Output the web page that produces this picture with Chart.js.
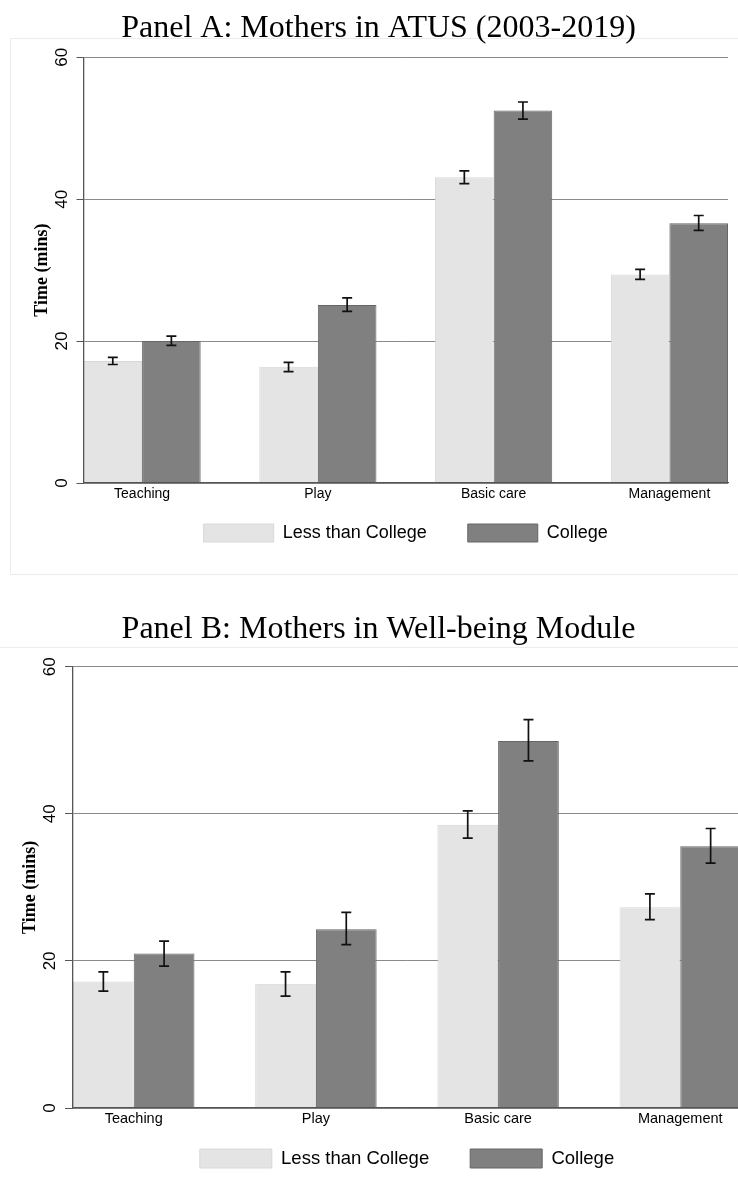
<!DOCTYPE html>
<html>
<head>
<meta charset="utf-8">
<script src="https://cdn.jsdelivr.net/npm/chart.js@4/dist/chart.umd.min.js"></script>
<style>
  body { margin: 0; background: #fff; }
  #page { position: relative; width: 738px; height: 1196px; overflow: hidden; background: #fff; }
  .frame { position: absolute; border: 1px solid #ececec; }
  canvas { position: absolute; }
</style>
</head>
<body>
<div id="page">
  <div class="frame" style="left:10px; top:38px; width:760px; height:535px;"></div>
  <div class="frame" style="left:-2px; top:647px; width:760px; height:600px;"></div>
  <canvas id="panelA" width="709" height="574" style="left:29px; top:0px;"></canvas>
  <canvas id="panelB" width="735" height="600" style="left:15.7px; top:600px;"></canvas>
</div>
<script>
// Categories and series names shared by both panels
const categories = ["Teaching", "Play", "Basic care", "Management"];
const seriesNames = ["Less than College", "College"];
const yTicks = [0, 20, 40, 60];

// Panel A: Mothers in ATUS (2003-2019)
const atusLess = [17.2, 16.4, 43.1, 29.4];
const atusLessLow = [16.7, 15.7, 42.2, 28.7];
const atusLessHigh = [17.7, 17.0, 44.0, 30.1];
const atusCollege = [20.0, 25.1, 52.5, 36.6];
const atusCollegeLow = [19.4, 24.2, 51.3, 35.6];
const atusCollegeHigh = [20.7, 26.1, 53.7, 37.7];

// Panel B: Mothers in Well-being Module
const wbLess = [17.2, 16.9, 38.5, 27.3];
const wbLessLow = [15.9, 15.2, 36.7, 25.6];
const wbLessHigh = [18.5, 18.5, 40.4, 29.1];
const wbCollege = [21.0, 24.3, 49.9, 35.6];
const wbCollegeLow = [19.3, 22.2, 47.2, 33.3];
const wbCollegeHigh = [22.7, 26.6, 52.8, 38.0];

const SANS = "'Liberation Sans', Arial, sans-serif";
const SERIF = "'Liberation Serif', 'Times New Roman', serif";

// Draws the confidence interval whiskers on top of each bar
const errorBars = {
  id: "errorBars",
  afterDatasetsDraw(chart) {
    const ctx = chart.ctx;
    const yScale = chart.scales.y;
    chart.data.datasets.forEach((ds, i) => {
      const meta = chart.getDatasetMeta(i);
      meta.data.forEach((bar, j) => {
        const top = yScale.getPixelForValue(ds.errHigh[j]);
        const bottom = yScale.getPixelForValue(ds.errLow[j]);
        const half = 5;
        ctx.save();
        ctx.strokeStyle = "#111";
        ctx.lineWidth = 1.7;
        ctx.beginPath();
        ctx.moveTo(bar.x, top);
        ctx.lineTo(bar.x, bottom);
        ctx.moveTo(bar.x - half, top);
        ctx.lineTo(bar.x + half, top);
        ctx.moveTo(bar.x - half, bottom);
        ctx.lineTo(bar.x + half, bottom);
        ctx.stroke();
        ctx.restore();
      });
    });
  },
};

// The legend sits right under the axis labels, so pull it up over the x axis box
const legendShift = {
  id: "legendShift",
  afterLayout(chart) {
    const shift = chart.scales.x.height;
    chart.legend.top -= shift;
    chart.legend.bottom -= shift;
  },
};

function toPoints(values) {
  return values.map((v, i) => ({ x: i, y: v }));
}

// Build one panel; p holds the layout numbers for that panel
function createPanel(canvasId, title, less, lessLow, lessHigh, college, collegeLow, collegeHigh, p) {
  const ctx = document.getElementById(canvasId).getContext("2d");
  return new Chart(ctx, {
    type: "bar",
    data: {
      datasets: [
        {
          label: seriesNames[0],
          data: toPoints(less),
          errLow: lessLow,
          errHigh: lessHigh,
          backgroundColor: "#e4e4e4",
          borderColor: "#d8d8d8",
          borderWidth: 1,
          categoryPercentage: 2 / 3,
          barPercentage: 1,
        },
        {
          label: seriesNames[1],
          data: toPoints(college),
          errLow: collegeLow,
          errHigh: collegeHigh,
          backgroundColor: "#808080",
          borderColor: "#666666",
          borderWidth: 1,
          categoryPercentage: 2 / 3,
          barPercentage: 1,
        },
      ],
    },
    options: {
      responsive: false,
      animation: false,
      layout: { padding: { left: 0, right: p.rightPad, top: 0, bottom: 0 } },
      plugins: {
        title: {
          display: true,
          text: title,
          color: "#000",
          font: { family: SERIF, size: 32, weight: "normal" },
          padding: { top: p.titleTop, bottom: p.titleBottom },
        },
        legend: {
          position: "bottom",
          fullSize: false,
          labels: {
            color: "#000",
            font: { family: SANS, size: p.legendFont },
            boxWidth: p.boxW,
            boxHeight: p.boxH,
            padding: 41,
          },
        },
        tooltip: { enabled: false },
      },
      scales: {
        x: {
          type: "linear",
          offset: false,
          min: -1 / 3,
          max: categories.length - 1 + 1 / 3,
          afterBuildTicks: (scale) => {
            scale.ticks = categories.map((c, i) => ({ value: i }));
          },
          afterFit: (scale) => {
            scale.height = 22;
          },
          grid: { display: false, drawTicks: false },
          border: { display: true, color: "#555", width: 1.3, z: 1 },
          ticks: {
            autoSkip: false,
            maxRotation: 0,
            padding: 2.5,
            color: "#000",
            font: { family: SANS, size: p.catFont },
            callback: (value) => categories[value],
          },
        },
        y: {
          min: 0,
          max: 60,
          afterBuildTicks: (scale) => {
            scale.ticks = yTicks.map((v) => ({ value: v }));
          },
          afterFit: (scale) => {
            scale.width = p.axisW;
          },
          grid: {
            color: "#8a8a8a",
            lineWidth: 1,
            drawTicks: true,
            tickLength: p.tickLen,
            tickColor: "#555",
          },
          border: { display: true, color: "#555", width: 1.3, z: 1 },
          ticks: {
            minRotation: 90,
            maxRotation: 90,
            crossAlign: "center",
            padding: p.tickPad,
            color: "#000",
            font: { family: SANS, size: 17 },
          },
          title: {
            display: true,
            text: "Time (mins)",
            color: "#000",
            font: { family: SERIF, size: 18, weight: "bold" },
            padding: { top: p.yTitlePad, bottom: 0 },
          },
        },
      },
    },
    plugins: [errorBars, legendShift],
  });
}

createPanel("panelA", "Panel A: Mothers in ATUS (2003-2019)",
  atusLess, atusLessLow, atusLessHigh, atusCollege, atusCollegeLow, atusCollegeHigh,
  { rightPad: 10, titleTop: 9, titleBottom: 9.9, legendFont: 18, boxW: 70, boxH: 18,
    catFont: 14, axisW: 54.5, tickLen: 7, tickPad: 5, yTitlePad: 2.7 });

createPanel("panelB", "Panel B: Mothers in Well-being Module",
  wbLess, wbLessLow, wbLessHigh, wbCollege, wbCollegeLow, wbCollegeHigh,
  { rightPad: 10, titleTop: 10.8, titleBottom: 17.5, legendFont: 18.5, boxW: 72, boxH: 19,
    catFont: 14.5, axisW: 57, tickLen: 8, tickPad: 4.8, yTitlePad: 3.5 });
</script>
</body>
</html>
